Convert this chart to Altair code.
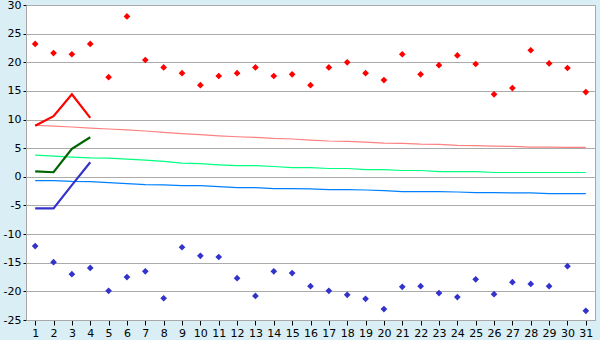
import altair as alt
import pandas as pd

days = list(range(1, 32))
max_obs = [23.2, 21.6, 21.4, 23.2, 17.4, 28.0, 20.4, 19.1, 18.1, 16.0, 17.6, 18.1, 19.1, 17.6, 17.9, 16.0,
           19.1, 20.0, 18.1, 16.9, 21.4, 17.9, 19.5, 21.2, 19.7, 14.4, 15.5, 22.1, 19.8, 19.0, 14.8]
min_obs = [-12.1, -14.9, -17.0, -15.9, -19.9, -17.5, -16.5, -21.2, -12.3, -13.8, -14.0, -17.7, -20.8, -16.5,
           -16.8, -19.1, -19.9, -20.6, -21.3, -23.1, -19.2, -19.1, -20.3, -21.0, -17.9, -20.5, -18.4, -18.7,
           -19.1, -15.6, -23.4]
norm_max = [9.0, 8.85, 8.7, 8.5, 8.35, 8.2, 8.0, 7.75, 7.55, 7.35, 7.15, 7.0, 6.9, 6.7, 6.6, 6.4, 6.25, 6.2,
            6.05, 5.9, 5.85, 5.7, 5.65, 5.5, 5.45, 5.35, 5.3, 5.2, 5.2, 5.15, 5.15]
norm_mean = [3.8, 3.6, 3.45, 3.3, 3.25, 3.1, 2.9, 2.7, 2.4, 2.3, 2.1, 1.95, 1.95, 1.8, 1.6, 1.6, 1.45, 1.45,
             1.25, 1.25, 1.1, 1.1, 0.9, 0.9, 0.9, 0.75, 0.75, 0.75, 0.75, 0.75, 0.75]
norm_min = [-0.65, -0.65, -0.8, -0.85, -1.0, -1.2, -1.35, -1.4, -1.55, -1.55, -1.7, -1.9, -1.9, -2.05, -2.05,
            -2.1, -2.25, -2.25, -2.3, -2.4, -2.6, -2.6, -2.6, -2.65, -2.75, -2.75, -2.8, -2.8, -2.95, -2.95, -2.95]
cur_days = [1, 2, 3, 4]
cur_max = [8.9, 10.6, 14.4, 10.3]
cur_mean = [0.95, 0.8, 4.9, 6.9]
cur_min = [-5.5, -5.5, -1.45, 2.55]
y_ticks = [-25, -20, -15, -10, -5, 0, 5, 10, 15, 20, 25, 30]

xs = alt.Scale(type="point", padding=0.5, domain=days)
ys = alt.Scale(domain=[-25, 30], nice=False, zero=False)
xax = alt.Axis(title=None, labelAngle=0, grid=False, tickSize=5, labelPadding=2)
yax = alt.Axis(title=None, values=y_ticks, grid=True, tickSize=3, labelPadding=2,
               labelExpr="'' + datum.value")


def line(dd, vals, color, width):
    df = pd.DataFrame({"day": dd, "v": vals})
    return alt.Chart(df).mark_line(color=color, strokeWidth=width).encode(
        x=alt.X("day:O", scale=xs, axis=xax),
        y=alt.Y("v:Q", scale=ys, axis=yax),
    )


def points(dd, vals, color):
    df = pd.DataFrame({"day": dd, "v": vals})
    return alt.Chart(df).mark_point(shape="diamond", filled=True, color=color, size=45, opacity=1).encode(
        x=alt.X("day:O", scale=xs, axis=xax),
        y=alt.Y("v:Q", scale=ys, axis=yax),
    )


chart = alt.layer(
    line(days, norm_max, "#FF8080", 1.2),
    line(days, norm_mean, "#00FF80", 1.2),
    line(days, norm_min, "#0080FF", 1.2),
    line(cur_days, cur_max, "#FF0000", 2.2),
    line(cur_days, cur_mean, "#006400", 2.2),
    line(cur_days, cur_min, "#3333CC", 2.2),
    points(days, max_obs, "#FF0000"),
    points(days, min_obs, "#3333CC"),
).properties(
    width=569,
    height=315,
    autosize=alt.AutoSizeParams(type="none"),
    padding={"left": 26, "top": 5, "right": 5, "bottom": 20},
    background="#D9EEF5",
).configure_view(
    fill="white", stroke="#A8A8A8", strokeWidth=1
).configure_axis(
    labelFont="DejaVu Sans", labelFontSize=11, labelColor="#000000",
    domainColor="#A8A8A8", tickColor="#000000", gridColor="#ABABAB", gridWidth=1,
)

chart.save("out.html", embed_options={"renderer": "svg", "actions": False})
